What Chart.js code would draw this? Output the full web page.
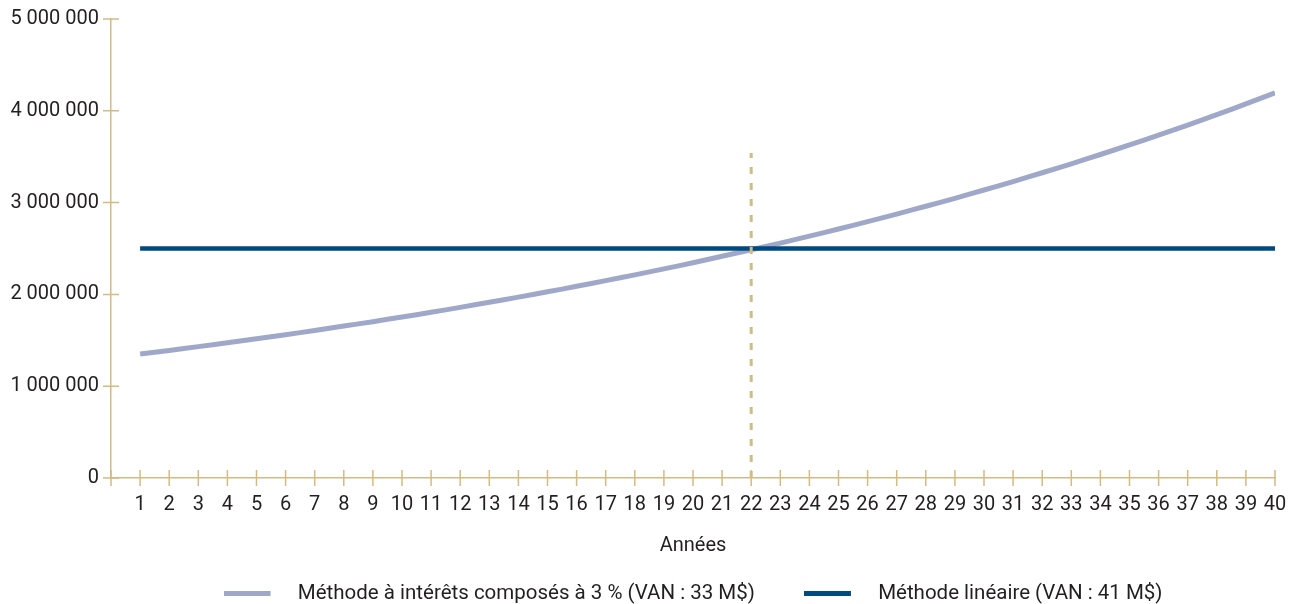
<!DOCTYPE html>
<html>
<head>
<meta charset="utf-8">
<script src="https://cdn.jsdelivr.net/npm/chart.js@4"></script>
<style>
  html, body { margin: 0; padding: 0; background: #fff; }
  #wrap { width: 1298px; height: 604px; }
</style>
</head>
<body>
<div id="wrap"><canvas id="myChart" width="1298" height="604"></canvas></div>
<script>
// years on the x axis
var years = [1, 2, 3, 4, 5, 6, 7, 8, 9, 10, 11, 12, 13, 14, 15, 16, 17, 18, 19, 20,
             21, 22, 23, 24, 25, 26, 27, 28, 29, 30, 31, 32, 33, 34, 35, 36, 37, 38, 39, 40]
// compound interest method
var compoundValues = [1350000, 1390000, 1431000, 1473000, 1516000, 1561000, 1607000, 1655000, 1703000, 1754000,
                      1805000, 1859000, 1914000, 1970000, 2028000, 2088000, 2150000, 2213000, 2278000, 2345000,
                      2415000, 2486000, 2559000, 2635000, 2712000, 2792000, 2875000, 2960000, 3047000, 3137000,
                      3229000, 3325000, 3423000, 3524000, 3628000, 3735000, 3845000, 3958000, 4075000, 4195000]
// linear method
var linearValues = [2500000, 2500000, 2500000, 2500000, 2500000, 2500000, 2500000, 2500000, 2500000, 2500000,
                    2500000, 2500000, 2500000, 2500000, 2500000, 2500000, 2500000, 2500000, 2500000, 2500000,
                    2500000, 2500000, 2500000, 2500000, 2500000, 2500000, 2500000, 2500000, 2500000, 2500000,
                    2500000, 2500000, 2500000, 2500000, 2500000, 2500000, 2500000, 2500000, 2500000, 2500000]
var seriesNames = ['Méthode à intérêts composés à 3 % (VAN : 33 M$)', 'Méthode linéaire (VAN : 41 M$)']
// dashed marker where both methods meet
var markerYear = 22
var markerTop = 3540000
var yMax = 5000000
var yStep = 1000000
var xTitle = 'Années'

var purple = '#a0a8c9'
var blue = '#004a80'
var gold = '#d5bb80'
var textColor = '#231f20'
var fontName = 'Roboto'

function points(xs, ys) {
    var out = []
    for (var i = 0; i < xs.length; i++) {
        out.push({ x: xs[i], y: ys[i] })
    }
    return out
}

// legend swatch: 47px bar, then the gap before the text
function swatch(color) {
    var c = document.createElement('canvas')
    c.width = 64
    c.height = 5
    var g = c.getContext('2d')
    g.fillStyle = color
    g.fillRect(0, 0, 47, 5)
    return c
}

function spaced(v) {
    return String(v).replace(/\B(?=(\d{3})+(?!\d))/g, ' ')
}

// tick marks crossing both axes
var crossTicks = {
    id: 'crossTicks',
    beforeDatasetsDraw: function (chart) {
        var ctx = chart.ctx
        var xs = chart.scales.x
        var ys = chart.scales.y
        var half = 8
        ctx.save()
        ctx.strokeStyle = gold
        ctx.lineWidth = 1.5
        ctx.beginPath()
        xs.ticks.forEach(function (t) {
            var px = xs.getPixelForValue(t.value)
            ctx.moveTo(px, ys.bottom - half)
            ctx.lineTo(px, ys.bottom + half)
        })
        ys.ticks.forEach(function (t) {
            var py = ys.getPixelForValue(t.value)
            ctx.moveTo(xs.left - half, py)
            ctx.lineTo(xs.left + half, py)
        })
        ctx.stroke()
        ctx.restore()
    }
}

function buildGraph() {
    var ctx = document.getElementById('myChart').getContext('2d')
    var chart = new Chart(ctx, {
        type: 'line',
        data: {
            datasets: [{
                label: seriesNames[0],
                data: points(years, compoundValues),
                borderColor: purple,
                backgroundColor: purple,
                borderWidth: 5,
                pointRadius: 0,
                tension: 0.3,
                order: 3
            }, {
                label: seriesNames[1],
                data: points(years, linearValues),
                borderColor: blue,
                backgroundColor: blue,
                borderWidth: 4.5,
                pointRadius: 0,
                order: 2
            }, {
                label: 'marker',
                data: points([markerYear, markerYear], [0, markerTop]),
                borderColor: gold,
                borderWidth: 3,
                borderDash: [7, 9],
                pointRadius: 0,
                order: 1
            }]
        },
        options: {
            responsive: false,
            animation: false,
            layout: { padding: { top: 19, right: 23, left: 0, bottom: -10 } },
            scales: {
                x: {
                    type: 'linear',
                    min: 0,
                    max: 40,
                    afterFit: function (scale) {
                        scale.height = 56.5
                        scale.paddingLeft = 0
                        scale.paddingRight = 0
                    },
                    border: { display: true, color: gold, width: 1.5 },
                    grid: { display: true, drawOnChartArea: false, drawTicks: false },
                    ticks: {
                        stepSize: 1,
                        autoSkip: false,
                        maxRotation: 0,
                        padding: 15,
                        color: textColor,
                        font: { family: fontName, size: 20 },
                        callback: function (v) { return v === 0 ? '' : v }
                    },
                    title: {
                        display: true,
                        text: xTitle,
                        color: textColor,
                        font: { family: fontName, size: 20 },
                        padding: { top: 0, bottom: -23.5 }
                    }
                },
                y: {
                    min: 0,
                    max: yMax,
                    afterFit: function (scale) {
                        scale.width = 111
                        scale.paddingTop = 0
                        scale.paddingBottom = 0
                    },
                    border: { display: true, color: gold, width: 1.5 },
                    grid: { display: true, drawOnChartArea: false, drawTicks: false },
                    ticks: {
                        stepSize: yStep,
                        padding: 12,
                        color: textColor,
                        font: { family: fontName, size: 20 },
                        callback: function (v) { return spaced(v) }
                    }
                }
            },
            plugins: {
                tooltip: { enabled: false },
                legend: {
                    position: 'bottom',
                    fullSize: false,
                    labels: {
                        usePointStyle: true,
                        pointStyleWidth: 64,
                        boxHeight: 5,
                        padding: 49,
                        color: textColor,
                        font: { family: fontName, size: 20.5 },
                        sort: function (a, b) { return a.datasetIndex - b.datasetIndex },
                        generateLabels: function (chart) {
                            var items = Chart.defaults.plugins.legend.labels.generateLabels(chart)
                            return items.filter(function (it) { return it.datasetIndex < 2 }).map(function (it) {
                                it.pointStyle = swatch(it.datasetIndex === 0 ? purple : blue)
                                it.lineWidth = 0
                                return it
                            })
                        }
                    }
                }
            }
        },
        plugins: [crossTicks]
    })
}

buildGraph()
</script>
</body>
</html>
